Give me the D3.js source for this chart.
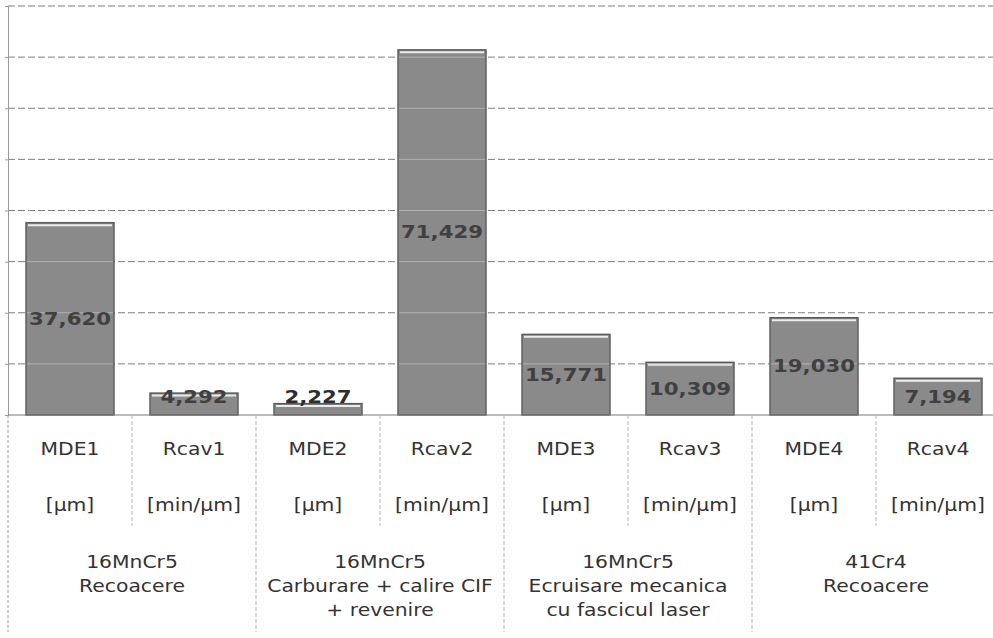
<!DOCTYPE html>
<html>
<head>
<meta charset="utf-8">
<script src="https://cdn.jsdelivr.net/npm/d3@7"></script>
<style>
  html, body { margin: 0; padding: 0; background: #fff; }
  svg { display: block; }
</style>
</head>
<body>
<div id="chart"></div>
<script>
// Measured quantities per treatment (MDE = mean depth of erosion, Rcav = cavitation resistance)
const categories = ["MDE1", "Rcav1", "MDE2", "Rcav2", "MDE3", "Rcav3", "MDE4", "Rcav4"];
const units = ["[μm]", "[min/μm]", "[μm]", "[min/μm]", "[μm]", "[min/μm]", "[μm]", "[min/μm]"];
const values = [37.620, 4.292, 2.227, 71.429, 15.771, 10.309, 19.030, 7.194];
const groups = [
  ["16MnCr5", "Recoacere"],
  ["16MnCr5", "Carburare + calire CIF", "+ revenire"],
  ["16MnCr5", "Ecruisare mecanica", "cu fascicul laser"],
  ["41Cr4", "Recoacere"]
];
const yTicks = [0, 10, 20, 30, 40, 50, 60, 70, 80];

const W = 993, H = 638;
const plotLeft = 8, plotRight = 1000, plotBase = 415, plotTop = 6;

const svg = d3.select("#chart").append("svg")
  .attr("width", W).attr("height", H)
  .style("font-family", "'DejaVu Sans', Verdana, sans-serif");

const x = d3.scaleBand().domain(categories).range([plotLeft, plotRight])
  .paddingInner(0.29).paddingOuter(0.145);
const y = d3.scaleLinear().domain([0, 80]).range([plotBase, plotTop]);

const groupX = d3.scaleBand().domain(d3.range(groups.length)).range([plotLeft, plotRight]);

// dashed horizontal gridlines
svg.append("g").selectAll("line").data(yTicks.filter(t => t > 0)).join("line")
  .attr("x1", plotLeft).attr("x2", plotRight)
  .attr("y1", d => y(d)).attr("y2", d => y(d))
  .attr("stroke", "#7e7e7e").attr("stroke-width", 1)
  .attr("stroke-dasharray", "7,3");

// value axis line with small ticks
const yAxis = d3.axisLeft(y).tickValues(yTicks).tickSize(3).tickFormat("");
const ya = svg.append("g").attr("transform", `translate(${plotLeft},0)`).call(yAxis);
ya.select(".domain").attr("stroke", "#9a9a9a");
ya.selectAll(".tick line").attr("stroke", "#9a9a9a");
// the value axis line continues down through the category table
svg.append("line").attr("x1", plotLeft).attr("x2", plotLeft).attr("y1", plotBase).attr("y2", 632)
  .attr("stroke", "#9a9a9a").attr("stroke-dasharray", "3,2");

// bars
const bars = svg.append("g");
bars.selectAll("rect.bar").data(values).join("rect")
  .attr("class", "bar")
  .attr("x", (d, i) => x(categories[i]))
  .attr("width", x.bandwidth())
  .attr("y", d => y(d))
  .attr("height", d => plotBase - y(d))
  .attr("fill", "#8a8a8a")
  .attr("stroke", "#5a5a5a")
  .attr("stroke-width", 1.4);
// bevel highlight along each bar top
bars.selectAll("line.hl").data(values).join("line")
  .attr("class", "hl")
  .attr("x1", (d, i) => x(categories[i]) + 2)
  .attr("x2", (d, i) => x(categories[i]) + x.bandwidth() - 2)
  .attr("y1", d => y(d) + 2.5).attr("y2", d => y(d) + 2.5)
  .attr("stroke", "#ececec").attr("stroke-width", 2);
// faint gridline traces across the bars
values.forEach((v, i) => {
  yTicks.filter(t => t > 0 && t < v - 0.3).forEach(t => {
    bars.append("line")
      .attr("x1", x(categories[i]) + 1).attr("x2", x(categories[i]) + x.bandwidth() - 1)
      .attr("y1", y(t)).attr("y2", y(t))
      .attr("stroke", "#c4c4c4").attr("stroke-width", 1).attr("opacity", 0.7);
  });
});

// category baseline
svg.append("line").attr("x1", plotLeft).attr("x2", plotRight).attr("y1", plotBase).attr("y2", plotBase)
  .attr("stroke", "#7a7a7a").attr("stroke-width", 1.2);

// value labels (decimal comma)
const fmt = v => d3.format(".3f")(v).replace(".", ",");
svg.append("g").selectAll("text").data(values).join("text")
  .attr("transform", (d, i) => {
    const cx = x(categories[i]) + x.bandwidth() / 2;
    const h = plotBase - y(d);
    const cy = h < 15 ? y(d) - 7 : (h < 30 ? y(d) + 4 : y(d) + h / 2);
    return `translate(${cx},${cy}) scale(1.18,1)`;
  })
  .attr("text-anchor", "middle").attr("dominant-baseline", "central")
  .attr("font-weight", "bold").attr("font-size", 18)
  .attr("fill", (d) => (plotBase - y(d)) < 15 ? "#2e2e2e" : "#404040")
  .text(d => fmt(d));

// category table: inner separators
const sepG = svg.append("g").attr("stroke", "#b5b5b5").attr("stroke-width", 1)
  .attr("stroke-dasharray", "4,2");
categories.forEach((c, i) => {
  if (i === 0) return;
  const xs = x(c) - x.step() * x.paddingInner() / 2;
  const isGroup = i % 2 === 0;
  sepG.append("line").attr("x1", xs).attr("x2", xs)
    .attr("y1", plotBase).attr("y2", isGroup ? 632 : 526);
});

// category and unit labels
const lab = svg.append("g").attr("fill", "#333").attr("font-size", 18)
  .attr("text-anchor", "middle").attr("dominant-baseline", "central");
categories.forEach((c, i) => {
  const cx = x(c) + x.bandwidth() / 2;
  lab.append("text").attr("transform", `translate(${cx},449) scale(1.13,1)`).text(c);
  lab.append("text").attr("transform", `translate(${cx},505) scale(1.13,1)`).text(units[i]);
});

// group labels
groups.forEach((g, gi) => {
  const cx = groupX(gi) + groupX.bandwidth() / 2;
  g.forEach((line, li) => {
    lab.append("text").attr("transform", `translate(${cx},${562 + li * 24}) scale(1.13,1)`).text(line);
  });
});
</script>
</body>
</html>
